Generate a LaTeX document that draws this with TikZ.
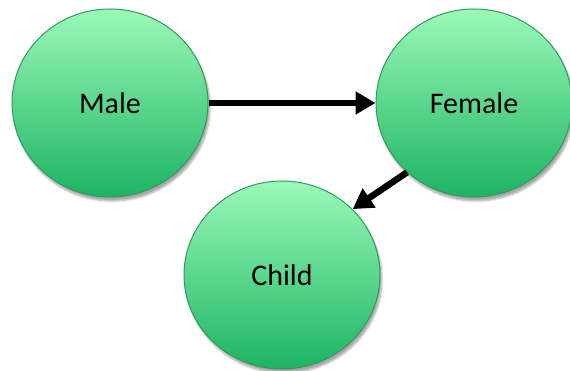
\documentclass[tikz,border=0pt]{standalone}
\usepackage{fontspec}
\setmainfont{Carlito}
\usetikzlibrary{shapes.geometric,arrows.meta,shadows.blur}
\definecolor{gtop}{HTML}{9BF9B9}
\definecolor{gbot}{HTML}{1DB463}
\definecolor{gborder}{HTML}{2E9A5C}
\tikzset{
  person/.style={ellipse, minimum width=196pt, minimum height=188pt, inner sep=0pt,
    top color=gtop, bottom color=gbot, draw=gborder, line width=1pt,
    font=\fontsize{30}{34}\selectfont,
    blur shadow={shadow xshift=2pt, shadow yshift=-4pt, shadow blur steps=6, shadow opacity=35}},
  link/.style={line width=6.5pt, -{Triangle[length=20pt,width=22pt]}}
}
\begin{document}
\begin{tikzpicture}[x=1pt,y=1pt]
\useasboundingbox (0,0) rectangle (570,371);
\node[person] (male) at (110,268) {Male};
\node[person] (female) at (474,268) {Female};
\node[person] (child) at (282,96) {Child};
\draw[link] (male.east) -- (female.west);
\draw[link] (female.-134) -- (child.43);
\end{tikzpicture}
\end{document}
